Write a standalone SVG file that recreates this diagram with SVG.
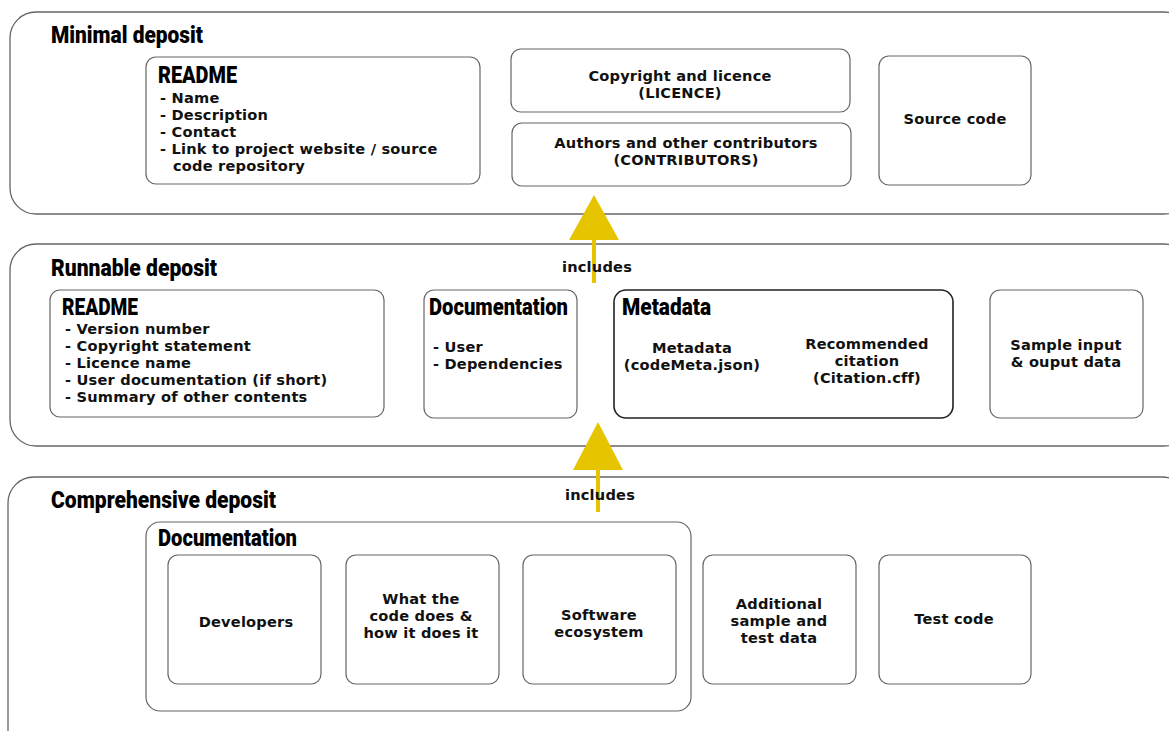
<svg xmlns="http://www.w3.org/2000/svg" width="1169" height="731" viewBox="0 0 1169 731">
<style>
.tier{fill:#fff;stroke:#666;stroke-width:1.3}
.box{fill:#fff;stroke:#666;stroke-width:1.2}
.meta{fill:#fff;stroke:#222;stroke-width:1.6}
.h{font-family:Roboto,"DejaVu Sans Condensed","Liberation Sans",sans-serif;font-weight:900;font-size:23px;fill:#000}
.t{font-family:"DejaVu Sans","Liberation Sans",sans-serif;font-weight:bold;font-size:14.6px;letter-spacing:0.2px;fill:#111}
.c{text-anchor:middle}
.arr{fill:#E6C400}
</style>
<rect width="1169" height="731" fill="#fff"/>
<g id="minimal">
<rect class="tier" x="10" y="12" width="1180" height="202" rx="26"/>
<text class="h" x="51" y="43" textLength="152" lengthAdjust="spacingAndGlyphs">Minimal deposit</text>
</g>
<g id="runnable">
<rect class="tier" x="10" y="244" width="1180" height="202" rx="26"/>
<text class="h" x="51" y="276" textLength="166" lengthAdjust="spacingAndGlyphs">Runnable deposit</text>
</g>
<g id="comprehensive">
<rect class="tier" x="8" y="477" width="1180" height="290" rx="26"/>
<text class="h" x="51" y="508" textLength="225" lengthAdjust="spacingAndGlyphs">Comprehensive deposit</text>
</g>
<g id="readme-min">
<rect class="box" x="146" y="57" width="334" height="127" rx="10"/>
<text class="h" x="158" y="83" textLength="79" lengthAdjust="spacingAndGlyphs">README</text>
<text class="t"><tspan x="160" y="103">- Name</tspan><tspan x="160" y="120">- Description</tspan><tspan x="160" y="137">- Contact</tspan><tspan x="160" y="154">- Link to project website / source</tspan><tspan x="173" y="171">code repository</tspan></text>
</g>
<g id="licence">
<rect class="box" x="511" y="49" width="339" height="63" rx="10"/>
<text class="t c"><tspan x="680" y="81">Copyright and licence</tspan><tspan x="680" y="98">(LICENCE)</tspan></text>
</g>
<g id="contributors">
<rect class="box" x="512" y="123" width="339" height="63" rx="10"/>
<text class="t c"><tspan x="686" y="148">Authors and other contributors</tspan><tspan x="686" y="165">(CONTRIBUTORS)</tspan></text>
</g>
<g id="source-code">
<rect class="box" x="879" y="56" width="152" height="129" rx="10"/>
<text class="t c" x="955" y="124">Source code</text>
</g>
<g id="readme-run">
<rect class="box" x="50" y="290" width="334" height="127" rx="10"/>
<text class="h" x="62" y="315" textLength="76" lengthAdjust="spacingAndGlyphs">README</text>
<text class="t"><tspan x="65" y="334">- Version number</tspan><tspan x="65" y="351">- Copyright statement</tspan><tspan x="65" y="368">- Licence name</tspan><tspan x="65" y="385">- User documentation (if short)</tspan><tspan x="65" y="402">- Summary of other contents</tspan></text>
</g>
<g id="doc-run">
<rect class="box" x="424" y="290" width="153" height="128" rx="10"/>
<text class="h" x="429" y="315" textLength="139" lengthAdjust="spacingAndGlyphs">Documentation</text>
<text class="t"><tspan x="433" y="352">- User</tspan><tspan x="433" y="369">- Dependencies</tspan></text>
</g>
<g id="metadata">
<rect class="meta" x="614" y="290" width="339" height="128" rx="12"/>
<text class="h" x="622" y="315" textLength="89" lengthAdjust="spacingAndGlyphs">Metadata</text>
<text class="t c"><tspan x="692" y="353">Metadata</tspan><tspan x="692" y="370">(codeMeta.json)</tspan></text>
<text class="t c"><tspan x="867" y="349">Recommended</tspan><tspan x="867" y="366">citation</tspan><tspan x="867" y="383">(Citation.cff)</tspan></text>
</g>
<g id="sample">
<rect class="box" x="990" y="290" width="153" height="128" rx="10"/>
<text class="t c"><tspan x="1066" y="350">Sample input</tspan><tspan x="1066" y="367">&amp; ouput data</tspan></text>
</g>
<g id="doc-comp">
<rect class="box" x="146" y="522" width="545" height="189" rx="14"/>
<text class="h" x="158" y="546" textLength="139" lengthAdjust="spacingAndGlyphs">Documentation</text>
</g>
<g id="developers">
<rect class="box" x="168" y="555" width="153" height="129" rx="10"/>
<text class="t c" x="246" y="627">Developers</text>
</g>
<g id="what-code">
<rect class="box" x="346" y="555" width="153" height="129" rx="10"/>
<text class="t c"><tspan x="421" y="604">What the</tspan><tspan x="421" y="621">code does &amp;</tspan><tspan x="421" y="638">how it does it</tspan></text>
</g>
<g id="ecosystem">
<rect class="box" x="523" y="555" width="153" height="129" rx="10"/>
<text class="t c"><tspan x="599" y="620">Software</tspan><tspan x="599" y="637">ecosystem</tspan></text>
</g>
<g id="additional">
<rect class="box" x="703" y="555" width="153" height="129" rx="10"/>
<text class="t c"><tspan x="779" y="609">Additional</tspan><tspan x="779" y="626">sample and</tspan><tspan x="779" y="643">test data</tspan></text>
</g>
<g id="test-code">
<rect class="box" x="879" y="555" width="152" height="129" rx="10"/>
<text class="t c" x="954" y="624">Test code</text>
</g>
<g id="connectors">
<rect class="arr" x="592" y="230" width="4" height="53"/>
<polygon class="arr" points="594,195 569,240 619,240"/>
<text class="t c" x="597" y="272">includes</text>
<rect class="arr" x="596" y="460" width="4" height="52"/>
<polygon class="arr" points="598,422 573,470 623,470"/>
<text class="t c" x="600" y="500">includes</text>
</g>
</svg>
